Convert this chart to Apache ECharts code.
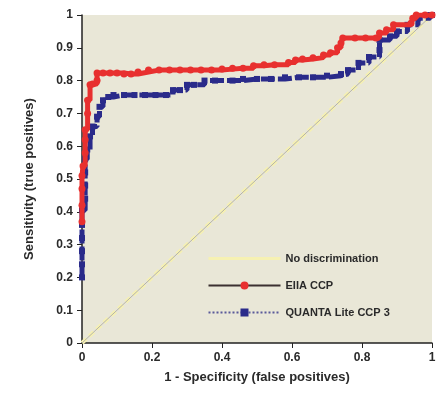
<!DOCTYPE html>
<html>
<head>
<meta charset="utf-8">
<script src="https://cdn.jsdelivr.net/npm/echarts@6/dist/echarts.min.js"></script>
<style>
  html, body { margin: 0; padding: 0; background: #ffffff; }
  #roc_chart { width: 446px; height: 403px; }
</style>
</head>
<body>
<div id="roc_chart"></div>
<script>
// series names
var NAMES = ['No discrimination', 'EIIA CCP', 'QUANTA Lite CCP 3'];

// tick labels
var X_TICKS = [0, 0.2, 0.4, 0.6, 0.8, 1];
var Y_TICKS = [0, 0.1, 0.2, 0.3, 0.4, 0.5, 0.6, 0.7, 0.8, 0.9, 1];

// reference diagonal
var diagonal = [[0, 0], [1, 1]];

// EIIA CCP ROC points [1 - specificity, sensitivity] (visible part)
var eiia = [
  [0, 0.37], [0, 0.42], [0, 0.47], [0, 0.51], [0.003, 0.54], [0.009, 0.58],
  [0.009, 0.62], [0.009, 0.65], [0.016, 0.70], [0.016, 0.74], [0.023, 0.787],
  [0.03, 0.79], [0.043, 0.80], [0.043, 0.823], [0.06, 0.823], [0.08, 0.823],
  [0.10, 0.823], [0.12, 0.82], [0.14, 0.82], [0.16, 0.826], [0.19, 0.832],
  [0.22, 0.832], [0.25, 0.832], [0.28, 0.832], [0.31, 0.832], [0.34, 0.832],
  [0.37, 0.832], [0.40, 0.835], [0.43, 0.838], [0.46, 0.838], [0.49, 0.845],
  [0.52, 0.848], [0.55, 0.848], [0.59, 0.855], [0.61, 0.863], [0.63, 0.866],
  [0.66, 0.87], [0.69, 0.878], [0.71, 0.885], [0.73, 0.90], [0.74, 0.915],
  [0.745, 0.93], [0.78, 0.93], [0.81, 0.93], [0.84, 0.93], [0.85, 0.945],
  [0.87, 0.955], [0.89, 0.97], [0.94, 0.975], [0.945, 0.99], [0.955, 1],
  [0.98, 1], [1, 1]
];

// QUANTA Lite CCP 3 ROC points (visible part)
var quanta = [
  [0, 0.2], [0, 0.24], [0, 0.28], [0, 0.32], [0, 0.36], [0, 0.405],
  [0.009, 0.44], [0.009, 0.48], [0.009, 0.52], [0.009, 0.56], [0.015, 0.59],
  [0.023, 0.63], [0.03, 0.66], [0.043, 0.69], [0.05, 0.72], [0.06, 0.74],
  [0.075, 0.75], [0.09, 0.756], [0.12, 0.756], [0.15, 0.756], [0.18, 0.756],
  [0.21, 0.756], [0.24, 0.756], [0.26, 0.771], [0.28, 0.771], [0.30, 0.787],
  [0.32, 0.787], [0.35, 0.80], [0.38, 0.80], [0.43, 0.80], [0.46, 0.805],
  [0.50, 0.805], [0.54, 0.805], [0.58, 0.81], [0.62, 0.81], [0.66, 0.81],
  [0.70, 0.815], [0.74, 0.82], [0.76, 0.832], [0.79, 0.854], [0.82, 0.872],
  [0.85, 0.893], [0.85, 0.924], [0.88, 0.935], [0.90, 0.95], [0.93, 0.97],
  [0.96, 0.99], [0.995, 1], [1, 1]
];

var RED = '#e8302f';
var NAVY = '#2a2b8a';
var BEIGE = '#e9e7d7';
var PALE = '#f6f1b2';
var FONT = '"Liberation Sans", Arial, sans-serif';

var roc_chart = echarts.init(document.getElementById('roc_chart'));
roc_chart.setOption({
  animation: false,
  grid: {
    left: 82, right: 14, top: 15, bottom: 60,
    show: true,
    backgroundColor: BEIGE,
    borderWidth: 0
  },
  legend: {
    orient: 'vertical',
    left: 202,
    top: 248,
    itemWidth: 72,
    itemHeight: 10,
    itemGap: 16,
    textStyle: { fontFamily: FONT, fontSize: 11, fontWeight: 'bold', color: '#2a2a2a' },
    data: [
      { name: NAMES[0], lineStyle: { color: PALE, width: 3, type: 'solid' }, itemStyle: { opacity: 0 } },
      { name: NAMES[1], lineStyle: { color: '#3b3030', width: 2, type: 'solid' } },
      { name: NAMES[2], lineStyle: { color: '#5a5a9a', width: 2, type: 'dotted' }, itemStyle: { color: NAVY } }
    ]
  },
  xAxis: {
    type: 'value',
    min: 0, max: 1, interval: 0.2,
    name: '1 - Specificity (false positives)',
    nameLocation: 'middle',
    nameGap: 28,
    nameTextStyle: { fontFamily: FONT, fontSize: 13, fontWeight: 'bold', color: '#2a2a2a' },
    axisLine: { show: true, lineStyle: { color: '#222', width: 1.5 } },
    axisTick: { show: true, length: 5, lineStyle: { color: '#222' } },
    axisLabel: {
      fontFamily: FONT, fontSize: 12, fontWeight: 'bold', color: '#2a2a2a', margin: 9,
      formatter: function (v) { return String(X_TICKS[Math.round(v * 5)]); }
    },
    splitLine: { show: false }
  },
  yAxis: {
    type: 'value',
    min: 0, max: 1, interval: 0.1,
    name: 'Sensitivity (true positives)',
    nameLocation: 'middle',
    nameGap: 46,
    nameTextStyle: { fontFamily: FONT, fontSize: 13, fontWeight: 'bold', color: '#2a2a2a' },
    axisLine: { show: true, lineStyle: { color: '#222', width: 1.5 } },
    axisTick: { show: true, length: 5, lineStyle: { color: '#222' } },
    axisLabel: {
      fontFamily: FONT, fontSize: 12, fontWeight: 'bold', color: '#2a2a2a', margin: 9,
      formatter: function (v) { return String(Y_TICKS[Math.round(v * 10)]); }
    },
    splitLine: { show: false }
  },
  series: [
    {
      name: NAMES[0],
      type: 'line',
      data: diagonal,
      symbol: 'none',
      lineStyle: { color: PALE, width: 4, type: [6, 4] },
      itemStyle: { color: PALE },
      z: 1
    },
    {
      name: 'diag',
      type: 'line',
      data: diagonal,
      symbol: 'none',
      lineStyle: { color: '#b5b3a8', width: 1 },
      z: 2
    },
    {
      name: NAMES[2],
      type: 'line',
      step: 'end',
      data: quanta,
      symbol: 'rect',
      symbolSize: 6,
      showAllSymbol: true,
      lineStyle: { color: NAVY, width: 5, type: [14, 3] },
      itemStyle: { color: NAVY },
      z: 3
    },
    {
      name: NAMES[1],
      type: 'line',
      step: 'end',
      data: eiia,
      symbol: 'circle',
      symbolSize: 7,
      showAllSymbol: true,
      lineStyle: { color: RED, width: 5 },
      itemStyle: { color: RED },
      z: 4
    }
  ]
});
</script>
</body>
</html>
